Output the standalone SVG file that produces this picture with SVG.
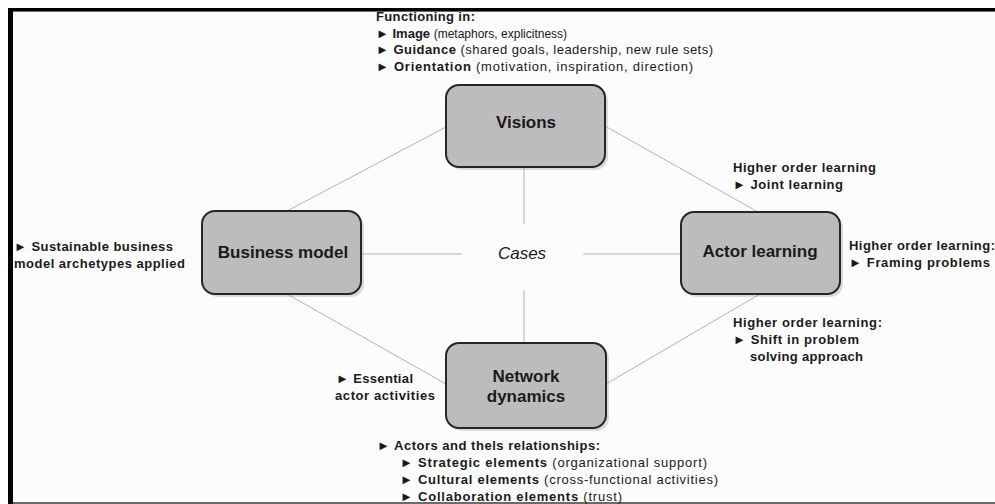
<svg xmlns="http://www.w3.org/2000/svg" width="995" height="504" viewBox="0 0 995 504">
  <style>
    .node { fill: url(#dots); stroke: #262626; stroke-width: 2; }
    .shadow { fill: #9a9a9a; opacity: 0.35; }
    .label { font-family: "Liberation Sans", Arial, sans-serif; font-weight: bold; font-size: 17px; fill: #1a1a1a; text-anchor: middle; }
    .note { font-family: "Liberation Sans", Arial, sans-serif; font-weight: bold; font-size: 13px; fill: #1a1a1a; }
    .light { font-weight: normal; }
    .cases { font-family: "Liberation Sans", Arial, sans-serif; font-style: italic; font-size: 17px; fill: #1a1a1a; text-anchor: middle; }
    .link { stroke: #b4b4b4; stroke-width: 1; fill: none; }
  </style>
  <defs>
    <pattern id="dots" width="4" height="4" patternUnits="userSpaceOnUse">
      <rect width="4" height="4" fill="#bdbdbd"/>
      <rect x="1" y="1" width="1" height="1" fill="#b0b0b0"/>
    </pattern>
  </defs>

  <!-- page and frame -->
  <rect x="0" y="0" width="995" height="504" fill="#ffffff"/>
  <rect x="13" y="12" width="982" height="492" fill="#fcfcfc"/>
  <rect x="8" y="8" width="987" height="3" fill="#000000"/>
  <rect x="13" y="11" width="982" height="1" fill="#6e6e6e"/>
  <rect x="8" y="8" width="5" height="496" fill="#000000"/>
  <rect x="13" y="502" width="982" height="2" fill="#6a6a6a"/>

  <!-- connectors -->
  <g id="connectors">
    <line class="link" x1="446" y1="127" x2="287" y2="211"/>
    <line class="link" x1="605" y1="126" x2="758" y2="212"/>
    <line class="link" x1="524" y1="167" x2="524" y2="224"/>
    <line class="link" x1="524" y1="290" x2="524" y2="343"/>
    <line class="link" x1="362" y1="254" x2="462" y2="254"/>
    <line class="link" x1="583" y1="254" x2="681" y2="254"/>
    <line class="link" x1="287" y1="294" x2="446" y2="384"/>
    <line class="link" x1="760" y1="294" x2="606" y2="384"/>
  </g>

  <!-- center label -->
  <g id="cases">
    <text class="cases" x="522" y="259">Cases</text>
  </g>

  <!-- nodes -->
  <g id="visions">
    <rect class="shadow" x="449" y="88" width="159" height="82" rx="13"/>
    <rect class="node" x="446" y="85" width="159" height="82" rx="13"/>
    <text class="label" x="526" y="128">Visions</text>
  </g>
  <g id="business-model">
    <rect class="shadow" x="205" y="214" width="159" height="83" rx="13"/>
    <rect class="node" x="202" y="211" width="159" height="83" rx="13"/>
    <text class="label" x="283" y="258">Business model</text>
  </g>
  <g id="actor-learning">
    <rect class="shadow" x="684" y="215" width="159" height="82" rx="13"/>
    <rect class="node" x="681" y="212" width="159" height="82" rx="13"/>
    <text class="label" x="760" y="257">Actor learning</text>
  </g>
  <g id="network-dynamics">
    <rect class="shadow" x="449" y="346" width="160" height="85" rx="13"/>
    <rect class="node" x="446" y="343" width="160" height="85" rx="13"/>
    <text class="label" x="526" y="382">Network</text>
    <text class="label" x="526" y="402">dynamics</text>
  </g>

  <!-- annotations -->
  <g id="visions-notes">
    <text class="note" x="376" y="21" textLength="99" lengthAdjust="spacing">Functioning in:</text>
    <text class="note" x="376" y="37.5">► Image <tspan class="light" style="font-size:12px">(metaphors, explicitness)</tspan></text>
    <text class="note" x="376" y="54" textLength="337" lengthAdjust="spacing">► Guidance <tspan class="light">(shared goals, leadership, new rule sets)</tspan></text>
    <text class="note" x="376" y="70.5" textLength="317" lengthAdjust="spacing">► Orientation <tspan class="light">(motivation, inspiration, direction)</tspan></text>
  </g>
  <g id="business-model-notes">
    <text class="note" x="14" y="251" textLength="159" lengthAdjust="spacing">► Sustainable business</text>
    <text class="note" x="14" y="268" textLength="171" lengthAdjust="spacing">model archetypes applied</text>
  </g>
  <g id="actor-learning-notes">
    <text class="note" x="733" y="172" textLength="143" lengthAdjust="spacing">Higher order learning</text>
    <text class="note" x="733" y="189" textLength="110" lengthAdjust="spacing">► Joint learning</text>
    <text class="note" x="849" y="249.5" textLength="146" lengthAdjust="spacing">Higher order learning:</text>
    <text class="note" x="849" y="266.5" textLength="141" lengthAdjust="spacing">► Framing problems</text>
    <text class="note" x="733" y="327" textLength="149" lengthAdjust="spacing">Higher order learning:</text>
    <text class="note" x="733" y="344" textLength="126" lengthAdjust="spacing">► Shift in problem</text>
    <text class="note" x="750" y="361" textLength="113" lengthAdjust="spacing">solving approach</text>
  </g>
  <g id="network-notes">
    <text class="note" x="336" y="383" textLength="77" lengthAdjust="spacing">► Essential</text>
    <text class="note" x="335" y="400" textLength="100" lengthAdjust="spacing">actor activities</text>
    <text class="note" x="377" y="449.5" textLength="223" lengthAdjust="spacing">► Actors and thels relationships:</text>
    <text class="note" x="400" y="467" textLength="307" lengthAdjust="spacing">► Strategic elements <tspan class="light">(organizational support)</tspan></text>
    <text class="note" x="400" y="484" textLength="318" lengthAdjust="spacing">► Cultural elements <tspan class="light">(cross-functional activities)</tspan></text>
    <text class="note" x="400" y="501" textLength="222" lengthAdjust="spacing">► Collaboration elements <tspan class="light">(trust)</tspan></text>
  </g>
</svg>
